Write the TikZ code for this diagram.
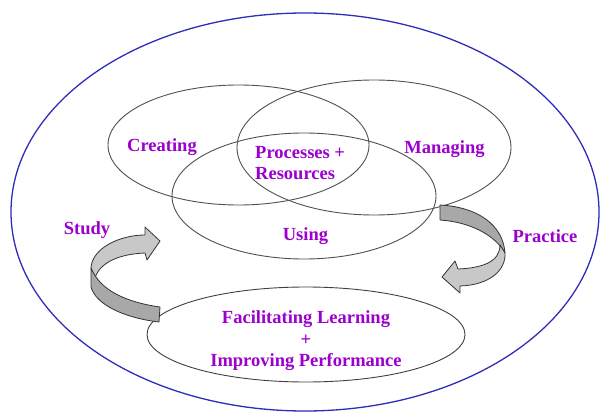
\documentclass[tikz,border=0pt]{standalone}
\usepackage{fontspec}
\setmainfont{Liberation Serif}
\usetikzlibrary{shapes.geometric}
\definecolor{lblpurple}{RGB}{155,0,205}
\definecolor{outerblue}{RGB}{45,45,185}
\definecolor{ringgray}{RGB}{80,80,80}
\definecolor{faceA}{RGB}{200,200,200}
\definecolor{faceB}{RGB}{168,168,168}
\tikzset{
  venn/.style={ellipse, draw=ringgray, line width=0.9pt, inner sep=0pt},
  lbl/.style={text=lblpurple, font=\fontsize{18.5}{21.5}\selectfont\bfseries, inner sep=0pt},
  ribbon/.style={draw=black!80, line width=0.8pt, line join=round}
}
\begin{document}
\begin{tikzpicture}[x=1pt,y=-1pt]
\useasboundingbox (0,0) rectangle (600,412);
% outer ellipse
\node[ellipse, draw=outerblue, line width=1.3pt, inner sep=0pt,
      minimum width=588pt, minimum height=398pt] (outer) at (305,212) {};
% venn ellipses
\node[venn, minimum width=261pt, minimum height=120pt] (creating) at (238.5,145) {};
\node[venn, minimum width=274pt, minimum height=135pt] (managing) at (374,147.5) {};
\node[venn, minimum width=264pt, minimum height=126pt] (using) at (304,196) {};
% bottom ellipse
\node[venn, draw=black!75, minimum width=318pt, minimum height=95pt] (goal) at (306,334.5) {};
% labels
\node[lbl] (tcreating) at (162,147) {Creating};
\node[lbl, anchor=west, align=left] (tproc) at (255,163) {Processes +\\Resources};
\node[lbl] (tmanaging) at (444.5,149) {Managing};
\node[lbl] (tusing) at (305.5,236) {Using};
\node[lbl] (tstudy) at (87,230) {Study};
\node[lbl] (tpractice) at (545,236) {Practice};
\node[lbl, align=center] (tgoal) at (306,341) {Facilitating Learning\\+\\Improving Performance};
% left arrow (Study)
\draw[ribbon, fill=faceA] (91,268) .. controls (92,248) and (120,235) .. (145,235)
  -- (145,227) -- (160,241) -- (147,260) -- (145,253)
  .. controls (120,254) and (100,262) .. (95,278) -- cycle;
\draw[ribbon, fill=faceB] (91,268) -- (91,287) .. controls (96,305) and (125,318) .. (159,322)
  -- (160,307) .. controls (125,302) and (100,290) .. (91,268) -- cycle;
% right arrow (Practice)
\draw[ribbon, fill=faceB] (440,205) .. controls (478,207) and (503,225) .. (505,253)
  .. controls (495,235) and (470,222) .. (440,220) -- cycle;
\draw[ribbon, fill=faceA] (500,245) .. controls (500,262) and (482,268) .. (458,269)
  -- (455,261) -- (442,277) -- (460,293) -- (460,286)
  .. controls (490,285) and (506,270) .. (505,253) -- cycle;
\end{tikzpicture}
\end{document}
